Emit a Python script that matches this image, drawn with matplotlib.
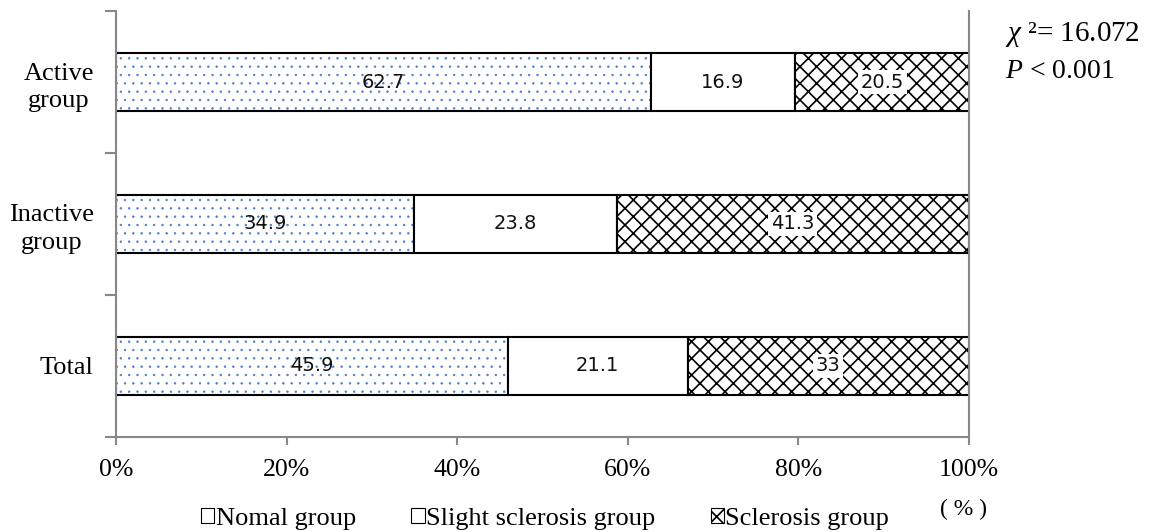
import matplotlib
matplotlib.use('Agg')

import matplotlib.pyplot as plt
from matplotlib.patches import Patch
import numpy as np

groups = ["Total", "Inactive\ngroup", "Active\ngroup"]
normal = [45.9, 34.9, 62.7]
slight = [21.1, 23.8, 16.9]
sclerosis = [33, 41.3, 20.5]
series_names = ["Nomal group", "Slight sclerosis group", "Sclerosis group"]
x_ticks = [0, 20, 40, 60, 80, 100]

serif = "Liberation Serif"
plt.rcParams['mathtext.fontset'] = 'custom'
plt.rcParams['mathtext.rm'] = serif
plt.rcParams['mathtext.it'] = serif + ':italic'

fig = plt.figure(figsize=(11.54, 5.32), dpi=100)
ax = fig.add_axes([0.1005, 0.1786, 0.7392, 0.8007])

y = np.arange(len(groups))
h = 0.41

# dotted fill for the normal group
plt.rcParams['hatch.linewidth'] = 0.5
b1 = ax.barh(y, normal, height=h, color='white', edgecolor='black', linewidth=1.5, hatch='..')
for bar in b1:
    bar._hatch_color = matplotlib.colors.to_rgba('#4a7fc8')
left2 = np.array(normal)
b2 = ax.barh(y, slight, left=left2, height=h, color='white', edgecolor='black', linewidth=1.5)
left3 = left2 + np.array(slight)
plt.rcParams['hatch.linewidth'] = 1.2
b3 = ax.barh(y, sclerosis, left=left3, height=h, color='white', edgecolor='black', linewidth=1.5, hatch='xx')
for bar in b3:
    bar._hatch_color = matplotlib.colors.to_rgba('black')

for i in range(len(groups)):
    ax.text(normal[i] / 2, y[i], f"{normal[i]:g}", ha='center', va='center',
            fontsize=14, color='#111111')
    ax.text(left2[i] + slight[i] / 2, y[i], f"{slight[i]:g}", ha='center', va='center',
            fontsize=14, color='#111111')
    ax.text(left3[i] + sclerosis[i] / 2, y[i], f"{sclerosis[i]:g}", ha='center', va='center',
            fontsize=14, color='#111111',
            bbox=dict(facecolor='white', edgecolor='none', pad=2))

ax.set_xlim(0, 100)
ax.set_ylim(-0.5, 2.5)
ax.set_xticks(x_ticks)
ax.set_xticklabels([f"{v}%" for v in x_ticks], fontsize=18.5, family=serif)
ax.set_yticks(y)
ax.set_yticklabels(groups, fontsize=19, family=serif, linespacing=1.35,
                   multialignment='center')
ax.set_yticks(np.arange(-0.5, 3, 1), minor=True)
ax.tick_params(axis='y', which='major', length=0, pad=16)
ax.tick_params(axis='y', which='minor', length=8, color='#888888', width=1.5)
ax.tick_params(axis='x', length=6, color='#888888', width=1.5, pad=10)

for side in ['left', 'bottom', 'right']:
    ax.spines[side].set_color('#888888')
    ax.spines[side].set_linewidth(1.5)
ax.spines['top'].set_visible(False)

fig.text(0.871, 0.935, r"$\chi$ ²= 16.072", fontsize=21, family=serif, ha='left', va='center')
fig.text(0.871, 0.866, r"$P$ < 0.001", fontsize=20, family=serif, ha='left', va='center')
fig.text(0.835, 0.042, "( % )", fontsize=17, family=serif, ha='center', va='center')

handles = [
    Patch(facecolor='white', edgecolor='black', linewidth=0.8),
    Patch(facecolor='white', edgecolor='black', linewidth=0.8),
    Patch(facecolor='white', edgecolor='black', linewidth=0.8, hatch='xx'),
]
fig.legend(handles, series_names, loc='center', bbox_to_anchor=(0.4723, 0.025), ncol=3,
           frameon=False, prop={'family': serif, 'size': 19}, handlelength=0.5,
           handleheight=0.5, handletextpad=0.05, columnspacing=2.1)

fig.savefig("out.png", dpi=100)
plt.close(fig)
